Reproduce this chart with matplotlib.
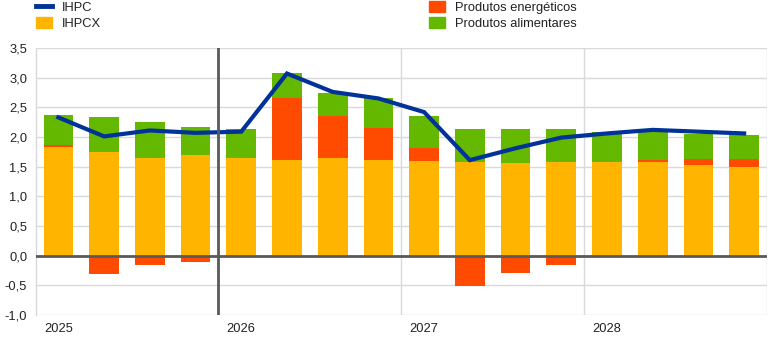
import matplotlib
matplotlib.use("Agg")
import matplotlib.pyplot as plt
from matplotlib.lines import Line2D
from matplotlib.patches import Patch
import numpy as np

# Quarterly contributions, 2025 Q1 - 2028 Q4 (percentage points)
quarters = ["2025T1", "2025T2", "2025T3", "2025T4",
            "2026T1", "2026T2", "2026T3", "2026T4",
            "2027T1", "2027T2", "2027T3", "2027T4",
            "2028T1", "2028T2", "2028T3", "2028T4"]
core = [1.83, 1.74, 1.64, 1.69, 1.64, 1.61, 1.64, 1.61,
        1.59, 1.58, 1.56, 1.58, 1.58, 1.58, 1.52, 1.49]
energy = [0.04, -0.31, -0.15, -0.11, 0.00, 1.05, 0.71, 0.54,
          0.23, -0.51, -0.29, -0.16, -0.03, 0.04, 0.11, 0.14]
food = [0.50, 0.59, 0.61, 0.48, 0.49, 0.42, 0.40, 0.50,
        0.53, 0.55, 0.57, 0.55, 0.50, 0.46, 0.42, 0.40]
hicp = [2.33, 2.01, 2.11, 2.07, 2.09, 3.07, 2.76, 2.65,
        2.42, 1.61, 1.81, 1.99, 2.06, 2.12, 2.09, 2.06]
year_labels = ["2025", "2026", "2027", "2028"]

labels = {"hicp": "IHPC", "core": "IHPCX",
          "energy": "Produtos energéticos", "food": "Produtos alimentares"}
colors = {"hicp": "#003299", "core": "#FFB400",
          "energy": "#FF4B00", "food": "#65B800"}

plt.rcParams["font.family"] = ["Liberation Sans", "DejaVu Sans"]
fs = 9.3

fig = plt.figure(figsize=(7.81, 3.42), dpi=100)
ax = fig.add_axes([35.5 / 781, 1 - 315 / 342, (767 - 35.5) / 781, (315 - 48) / 342])

x = np.arange(len(quarters))
core_a = np.array(core)
energy_a = np.array(energy)
food_a = np.array(food)
width = 0.65

ax.bar(x, core_a, width, color=colors["core"], zorder=2)
e_bottom = np.where(energy_a >= 0, core_a, 0.0)
ax.bar(x, energy_a, width, bottom=e_bottom, color=colors["energy"], zorder=2)
f_bottom = core_a + np.clip(energy_a, 0, None)
ax.bar(x, food_a, width, bottom=f_bottom, color=colors["food"], zorder=2)
ax.plot(x, hicp, color=colors["hicp"], lw=3.0, solid_joinstyle="miter", zorder=3)

ax.set_xlim(-0.5, len(quarters) - 0.5)
ax.set_ylim(-1.0, 3.5)
ax.set_yticks(np.arange(-1.0, 3.51, 0.5))
ax.set_yticklabels([f"{v:.1f}".replace(".", ",") for v in np.arange(-1.0, 3.51, 0.5)])
ax.set_xticks(x[::4])
ax.set_xticklabels(year_labels)
ax.tick_params(axis="both", length=0, labelsize=fs, colors="#222222")
ax.tick_params(axis="y", pad=6)
ax.tick_params(axis="x", pad=6)

grid_c = "#d9d9d9"
ax.grid(axis="y", color=grid_c, lw=1.0, zorder=0)
for b in [7.5, 11.5, 15.5]:
    ax.axvline(b, color=grid_c, lw=1.0, zorder=0)
ax.axvline(3.5, color="#595959", lw=2.0, zorder=4)
ax.axhline(0, color="#595959", lw=2.0, zorder=4)
for s in ["top", "right", "bottom"]:
    ax.spines[s].set_visible(False)
ax.spines["left"].set_color(grid_c)
ax.spines["left"].set_linewidth(1.0)

h1 = [Line2D([], [], color=colors["hicp"], lw=3.5),
      Patch(color=colors["core"])]
h2 = [Patch(color=colors["energy"]), Patch(color=colors["food"])]
common = dict(frameon=False, fontsize=fs, handlelength=1.2, handleheight=0.95,
              handletextpad=0.8, labelspacing=0.25, borderaxespad=0, borderpad=0)
leg1 = fig.legend(h1, [labels["hicp"], labels["core"]], loc="upper left",
                  bbox_to_anchor=(36 / 781, 1 - 0.5 / 342), **common)
leg2 = fig.legend(h2, [labels["energy"], labels["food"]], loc="upper left",
                  bbox_to_anchor=(429 / 781, 1 - 0.5 / 342), **common)
for leg in (leg1, leg2):
    for t in leg.get_texts():
        t.set_color("#222222")

fig.savefig("out.png", dpi=100)
